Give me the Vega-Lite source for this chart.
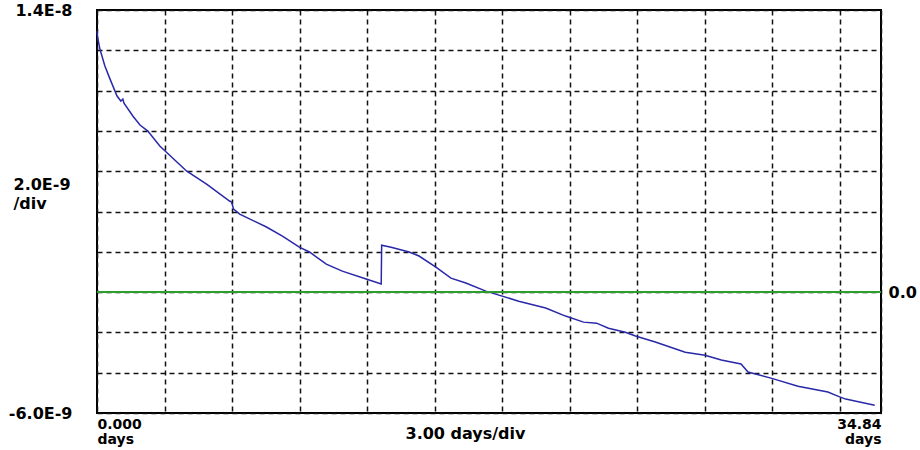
{
  "$schema": "https://vega.github.io/schema/vega-lite/v6.json",
  "width": 784,
  "height": 403,
  "autosize": "none",
  "padding": {"left": 97, "top": 10, "right": 39, "bottom": 37},
  "background": "white",
  "config": {
    "view": {"stroke": "black", "strokeWidth": 2},
    "font": "DejaVu Sans"
  },
  "data": {
    "values": [
      {"i": 0, "day": 0.0, "value": 12.95e-9},
      {"i": 1, "day": 0.04, "value": 12.56e-9},
      {"i": 2, "day": 0.13, "value": 12.06e-9},
      {"i": 3, "day": 0.35, "value": 11.22e-9},
      {"i": 4, "day": 0.58, "value": 10.57e-9},
      {"i": 5, "day": 0.89, "value": 9.73e-9},
      {"i": 6, "day": 1.06, "value": 9.48e-9},
      {"i": 7, "day": 1.15, "value": 9.58e-9},
      {"i": 8, "day": 1.20, "value": 9.38e-9},
      {"i": 9, "day": 1.60, "value": 8.73e-9},
      {"i": 10, "day": 1.91, "value": 8.29e-9},
      {"i": 11, "day": 2.26, "value": 7.99e-9},
      {"i": 12, "day": 2.79, "value": 7.25e-9},
      {"i": 13, "day": 3.99, "value": 6.00e-9},
      {"i": 14, "day": 4.87, "value": 5.36e-9},
      {"i": 15, "day": 5.89, "value": 4.52e-9},
      {"i": 16, "day": 5.98, "value": 4.47e-9},
      {"i": 17, "day": 6.07, "value": 4.12e-9},
      {"i": 18, "day": 6.34, "value": 3.87e-9},
      {"i": 19, "day": 7.53, "value": 3.23e-9},
      {"i": 20, "day": 8.24, "value": 2.78e-9},
      {"i": 21, "day": 8.99, "value": 2.23e-9},
      {"i": 22, "day": 9.44, "value": 1.99e-9},
      {"i": 23, "day": 10.19, "value": 1.39e-9},
      {"i": 24, "day": 10.90, "value": 1.04e-9},
      {"i": 25, "day": 11.96, "value": 0.65e-9},
      {"i": 26, "day": 12.63, "value": 0.40e-9},
      {"i": 27, "day": 12.65, "value": 2.33e-9},
      {"i": 28, "day": 13.07, "value": 2.23e-9},
      {"i": 29, "day": 13.87, "value": 1.99e-9},
      {"i": 30, "day": 14.31, "value": 1.79e-9},
      {"i": 31, "day": 15.06, "value": 1.24e-9},
      {"i": 32, "day": 15.73, "value": 0.69e-9},
      {"i": 33, "day": 16.39, "value": 0.45e-9},
      {"i": 34, "day": 17.28, "value": 0.05e-9},
      {"i": 35, "day": 17.86, "value": -0.15e-9},
      {"i": 36, "day": 18.74, "value": -0.45e-9},
      {"i": 37, "day": 19.94, "value": -0.79e-9},
      {"i": 38, "day": 20.82, "value": -1.19e-9},
      {"i": 39, "day": 21.62, "value": -1.49e-9},
      {"i": 40, "day": 22.20, "value": -1.54e-9},
      {"i": 41, "day": 22.73, "value": -1.79e-9},
      {"i": 42, "day": 23.48, "value": -1.99e-9},
      {"i": 43, "day": 23.93, "value": -2.18e-9},
      {"i": 44, "day": 24.81, "value": -2.48e-9},
      {"i": 45, "day": 26.14, "value": -2.98e-9},
      {"i": 46, "day": 27.02, "value": -3.13e-9},
      {"i": 47, "day": 27.74, "value": -3.37e-9},
      {"i": 48, "day": 28.62, "value": -3.57e-9},
      {"i": 49, "day": 28.93, "value": -3.97e-9},
      {"i": 50, "day": 29.95, "value": -4.27e-9},
      {"i": 51, "day": 31.15, "value": -4.67e-9},
      {"i": 52, "day": 32.48, "value": -4.96e-9},
      {"i": 53, "day": 32.92, "value": -5.16e-9},
      {"i": 54, "day": 33.27, "value": -5.31e-9},
      {"i": 55, "day": 34.56, "value": -5.61e-9}
    ]
  },
  "resolve": {"axis": {"y": "independent"}},
  "layer": [
    {
      "mark": {"type": "line", "color": "#2828a8", "strokeWidth": 1.5, "interpolate": "linear"},
      "encoding": {
        "x": {
          "field": "day", "type": "quantitative",
          "scale": {"domain": [0, 34.84], "nice": false, "zero": false},
          "axis": {
            "values": [0, 3, 6, 9, 12, 15, 18, 21, 24, 27, 30, 33, 34.84],
            "grid": true, "gridColor": "#111", "gridDash": [5, 4], "gridWidth": 1.5, "gridOpacity": 1,
            "ticks": false, "domain": false,
            "labelExpr": "datum.value == 0 ? ['0.000','days'] : (datum.value > 34 ? ['34.84','days'] : '')",
            "labelFlush": true, "labelOverlap": false,
            "labelFont": "DejaVu Sans", "labelFontWeight": "bold", "labelFontSize": 14,
            "labelColor": "black", "labelPadding": 4, "labelBaseline": "top", "labelLineHeight": 15,
            "title": "3.00 days/div", "titleFont": "DejaVu Sans", "titleFontWeight": "bold",
            "titleFontSize": 16, "titleColor": "black", "titleX": 368, "titleY": 20,
            "titleAlign": "center", "titleBaseline": "middle"
          }
        },
        "y": {
          "field": "value", "type": "quantitative",
          "scale": {"domain": [-6e-9, 14e-9], "nice": false, "zero": false},
          "axis": {
            "orient": "left",
            "values": [-6e-9, -4e-9, -2e-9, 0, 2e-9, 4e-9, 6e-9, 8e-9, 10e-9, 12e-9, 14e-9],
            "grid": true, "gridColor": "#111", "gridDash": [5, 4], "gridWidth": 1.5, "gridOpacity": 1,
            "ticks": false, "domain": false,
            "labelExpr": "datum.value < -5e-9 ? '-6.0E-9' : (datum.value > 13e-9 ? '1.4E-8' : '')",
            "labelOverlap": false,
            "labelFont": "DejaVu Sans", "labelFontWeight": "bold", "labelFontSize": 16,
            "labelColor": "black", "labelAlign": "right", "labelBaseline": "middle", "labelPadding": 25, "labelDy": 2,
            "title": ["2.0E-9", "/div"], "titleAngle": 0, "titleAlign": "left", "titleBaseline": "top",
            "titleX": -84, "titleY": 166, "titleLineHeight": 19,
            "titleFont": "DejaVu Sans", "titleFontWeight": "bold", "titleFontSize": 16, "titleColor": "black"
          }
        },
        "order": {"field": "i", "type": "quantitative"}
      }
    },
    {
      "mark": {"type": "rule", "color": "#2e9e2e", "strokeWidth": 1.5},
      "encoding": {
        "y": {
          "datum": 0, "type": "quantitative",
          "axis": {
            "orient": "right", "values": [0], "labelExpr": "'0.0'",
            "grid": false, "ticks": false, "domain": false,
            "labelFont": "DejaVu Sans", "labelFontWeight": "bold", "labelFontSize": 16,
            "labelColor": "black", "labelPadding": 7, "title": null
          }
        }
      }
    }
  ]
}
